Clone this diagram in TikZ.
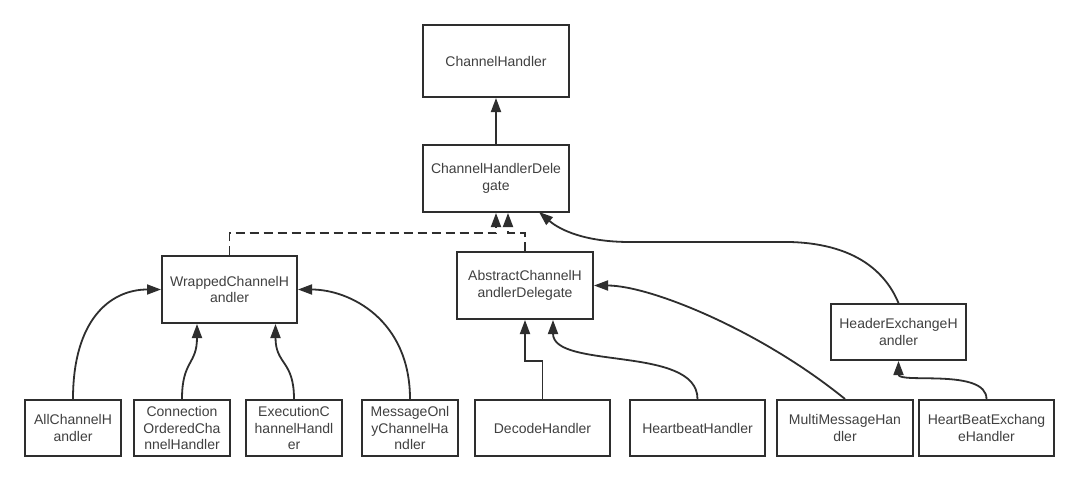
\documentclass[tikz,border=0pt]{standalone}
\usepackage{fontspec}
\setmainfont{Liberation Sans}
\usetikzlibrary{arrows.meta,calc}
\definecolor{ln}{HTML}{2E2E2E}
\definecolor{tx}{HTML}{404040}
\begin{document}
\begin{tikzpicture}[x=1pt,y=-1pt,
  box/.style 2 args={draw=ln,line width=2pt,fill=white,align=center,text=tx,
    font=\fontsize{14}{16.5}\selectfont,inner sep=0pt,
    minimum width=#1,minimum height=#2},
  arr/.style={draw=ln,line width=1.8pt,-{Triangle[length=14pt,width=10pt]}},
  darr/.style={arr,dash pattern=on 9pt off 5pt}]
\fill[white] (0,0) rectangle (1078,482);
\useasboundingbox (0,0) rectangle (1078,482);

\node[box={146}{72}] (ch)  at (496,61)    {ChannelHandler};
\node[box={146}{67}] (chd) at (496,178.5) {ChannelHandlerDele\\gate};
\node[box={135}{67}] (wch) at (229.5,289.5) {WrappedChannelH\\andler};
\node[box={136}{67}] (acd) at (525,285.5) {AbstractChannelH\\andlerDelegate};
\node[box={135}{56}] (hex) at (898.5,332) {HeaderExchangeH\\andler};

\node[box={96}{56}]  (all)   at (73,428)    {AllChannelH\\andler};
\node[box={96}{56}]  (conn)  at (182,428)   {Connection\\OrderedCha\\nnelHandler};
\node[box={96}{56}]  (exec)  at (294,428)   {ExecutionC\\hannelHandl\\er};
\node[box={96}{56}]  (msg)   at (410,428)   {MessageOnl\\yChannelHa\\ndler};
\node[box={135}{56}] (dec)   at (542.5,428) {DecodeHandler};
\node[box={135}{56}] (hb)    at (697.5,428) {HeartbeatHandler};
\node[box={136}{56}] (multi) at (845,428)   {MultiMessageHan\\dler};
\node[box={135}{56}] (hbe)   at (986.5,428) {HeartBeatExchang\\eHandler};

% top
\draw[arr] (chd.north) -- (ch.south);
% dashed into delegate
\coordinate (j1) at (496,233);
\coordinate (j2) at (508,233);
\draw[darr] (wch.north) |- (j1) -- (chd.south);
\draw[darr] (acd.north) |- (j2) -- ($(chd.south)+(12,0)$);
% header exchange -> delegate
\draw[arr] (hex.north) .. controls (888,278) and (862,244) .. (790,242)
  -- (630,242) .. controls (585,242) and (560,230) .. (539,212);
% into abstract
\draw[arr] (dec.north) |- ($(acd.south)+(0,41)$) -- (acd.south);
\draw[arr] (hb.north) .. controls (697.5,345) and (553,370) .. ($(acd.south)+(28,0)$);
\draw[arr] (multi.north) .. controls (760,330) and (650,285.5) .. (acd.east);
% into wrapped
\draw[arr] (all.north) .. controls (73,320) and (110,289.5) .. (wch.west);
\draw[arr] (conn.north) .. controls (182,360) and (197,365) .. ($(wch.south)+(-32.5,0)$);
\draw[arr] (exec.north) .. controls (294,360) and (275.5,365) .. ($(wch.south)+(46,0)$);
\draw[arr] (msg.north) .. controls (410,320) and (350,289.5) .. (wch.east);
% into header exchange
\draw[arr] (hbe.north) .. controls (986.5,368) and (898.5,384) .. (hex.south);
\end{tikzpicture}
\end{document}
